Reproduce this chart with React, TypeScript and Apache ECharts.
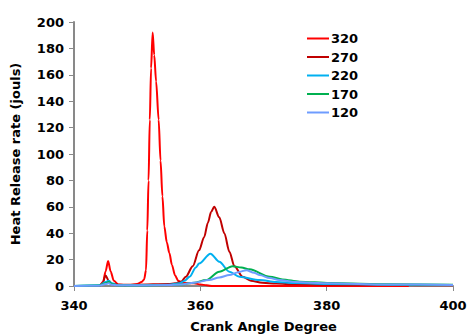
import React, { useEffect, useRef } from "react";
import * as echarts from "echarts";

const seriesNames = ["320", "270", "220", "170", "120"];
const seriesColors = ["#FF0000", "#C00000", "#00B0F0", "#00B050", "#6E9CFF"];

const hrr320: number[][] = [
  [340, 0], [344, 0], [344.6, 3], [345, 11], [345.4, 19], [345.8, 11], [346.3, 4], [347, 1.2],
  [348, 0.6], [349, 0.8], [350, 1.5], [350.7, 3], [351.1, 5], [351.4, 12], [351.6, 42], [351.8, 80],
  [352, 126], [352.2, 165], [352.45, 192], [352.7, 175], [353, 155], [353.4, 126], [353.7, 95],
  [354, 68], [354.3, 45], [354.7, 33], [355.1, 25], [355.5, 16], [356, 8], [356.5, 4], [357, 2.5],
  [358, 2.2], [359, 2], [360, 1.2], [361, 0.5], [362, 0], [393, 0],
];

const hrr270: number[][] = [
  [340, 0], [344, 0], [344.5, 2], [345, 8], [345.5, 4], [346, 1.5], [347, 1], [350, 1], [355, 1.5],
  [356, 2], [357, 3.5], [357.7, 7], [358.8, 15], [359.8, 27], [360.6, 37], [361.2, 48], [361.7, 56],
  [362.2, 60], [363, 52], [363.8, 40], [364.6, 26], [365.4, 15], [366.7, 7], [368, 4], [369.8, 2.5],
  [372, 1.8], [375, 1.3], [380, 1], [390, 0.7], [400, 0.5],
];

const hrr220: number[][] = [
  [340, 0], [344, 0.5], [345, 3], [345.5, 4], [346, 2], [347, 0.5], [350, 0.5], [355, 1], [356.7, 2],
  [357.5, 4], [358.3, 7], [359.3, 14], [359.8, 17], [361.6, 24.5], [363, 18.4], [364.6, 10.8], [366.2, 7],
  [369.4, 4.5], [372, 3], [375, 2.2], [380, 1.5], [390, 1], [400, 0.8],
];

const hrr170: number[][] = [
  [340, 0], [344, 0.3], [345, 2], [345.5, 3], [346, 1.5], [347, 0.5], [350, 0.5], [355, 0.8],
  [357, 1.2], [359, 2.5], [360.9, 4.5], [363, 10.8], [365.1, 15], [366.5, 14], [367.8, 12.6],
  [371, 7], [373, 5], [375.7, 3.3], [380.5, 2.2], [390, 1.3], [400, 1],
];

const hrr120: number[][] = [
  [340, 0], [344, 0.2], [345, 1.5], [345.5, 2], [346, 1], [347, 0.5], [350, 0.5], [355, 0.8],
  [357, 1.2], [359, 2.5], [361.4, 4.5], [363, 6.5], [364.6, 8.3], [366, 10.5], [367.3, 12],
  [368.5, 10], [369.4, 8.3], [371, 6], [372.5, 4.5], [375, 3], [377.3, 2.5], [380, 2], [390, 1.2],
  [400, 0.8],
];

const allData = [hrr320, hrr270, hrr220, hrr170, hrr120];

const FONT = "DejaVu Sans";

export default function App() {
  const ref = useRef<HTMLDivElement>(null);
  useEffect(() => {
    if (!ref.current) return;
    document.body.style.margin = "0";
    const chart = echarts.init(ref.current, undefined, { renderer: "svg" });
    chart.setOption({
      animation: false,
      backgroundColor: "#FFFFFF",
      grid: { left: 74, right: 15, top: 22, bottom: 50, outerBoundsMode: "none", containLabel: false },
      legend: {
        orient: "vertical",
        left: 307,
        top: 32,
        padding: 0,
        icon: "rect",
        itemWidth: 22,
        itemHeight: 2,
        itemGap: 5.5,
        data: seriesNames,
        textStyle: { fontFamily: FONT, fontWeight: "bold", fontSize: 13, color: "#000", padding: [0, 0, 0, -3] },
      },
      xAxis: {
        type: "value",
        min: 340,
        max: 400,
        interval: 20,
        name: "Crank Angle Degree",
        nameLocation: "middle",
        nameGap: 34,
        nameTextStyle: { fontFamily: FONT, fontWeight: "bold", fontSize: 13, color: "#000" },
        axisLine: { show: true, onZero: false, lineStyle: { color: "#898989", width: 2 } },
        axisTick: { show: true, inside: false, length: 5, lineStyle: { color: "#898989" } },
        axisLabel: { fontFamily: FONT, fontWeight: "bold", fontSize: 13, color: "#000", margin: 13 },
        splitLine: { show: false },
      },
      yAxis: {
        type: "value",
        min: 0,
        max: 200,
        interval: 20,
        name: "Heat Release rate (jouls)",
        nameLocation: "middle",
        nameGap: 52,
        nameTextStyle: { fontFamily: FONT, fontWeight: "bold", fontSize: 13, color: "#000" },
        axisLine: { show: true, lineStyle: { color: "#898989", width: 2 } },
        axisTick: { show: true, inside: false, length: 5, lineStyle: { color: "#898989" } },
        axisLabel: { fontFamily: FONT, fontWeight: "bold", fontSize: 13, color: "#000", margin: 10 },
        splitLine: { show: false },
      },
      series: seriesNames.map((name, i) => ({
        name,
        type: "line",
        data: allData[i],
        symbol: "none",
        showSymbol: false,
        smooth: 0.3,
        smoothMonotone: "x",
        color: seriesColors[i],
        itemStyle: { color: seriesColors[i] },
        lineStyle: { color: seriesColors[i], width: 2 },
      })),
    });
    return () => chart.dispose();
  }, []);
  return <div ref={ref} style={{ width: 468, height: 336 }} />;
}
